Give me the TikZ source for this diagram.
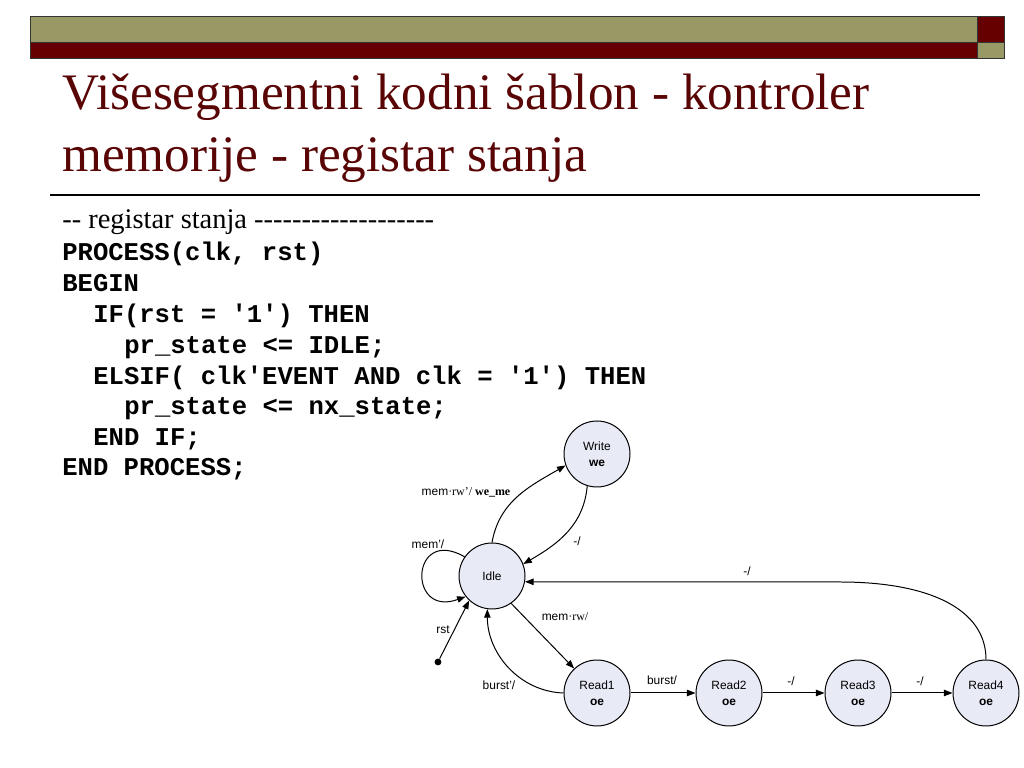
\documentclass[tikz,border=0pt]{standalone}
\usepackage{fontspec}
\setmainfont{Liberation Serif}
\setsansfont{Liberation Sans}
\setmonofont{Liberation Mono}
\usepackage{tikz}
\usetikzlibrary{arrows.meta, positioning, calc}
\definecolor{barolive}{HTML}{999966}
\definecolor{barmaroon}{HTML}{660000}
\definecolor{titlered}{HTML}{5A0505}
\definecolor{statefill}{HTML}{E8EAF6}

\begin{document}
\begin{tikzpicture}[x=0.703125pt, y=0.703125pt,
    titletext/.style={anchor=base west, inner sep=0pt, text=titlered, font=\fontsize{36}{40}\selectfont},
    cmt/.style={anchor=base west, inner sep=0pt, font=\fontsize{20}{24}\selectfont},
    code/.style={anchor=base west, inner sep=0pt, font=\ttfamily\bfseries\fontsize{18}{20}\selectfont},
    state/.style={circle, draw=black, line width=0.7pt, fill=statefill, minimum size=46.4pt, inner sep=0pt, align=center, font=\sffamily\fontsize{8.4}{11}\selectfont},
    edge/.style={line width=0.7pt, -{Triangle[length=6pt, width=4.5pt]}},
    lbl/.style={inner sep=1pt, font=\sffamily\fontsize{8.4}{10}\selectfont}]
    \useasboundingbox (0,0) rectangle (1024,768);

    % ===== Top bar =====
    \fill[barolive] (30,726) rectangle (977,752);
    \fill[barmaroon] (30,710) rectangle (977,726);
    \fill[barmaroon] (977,726) rectangle (1004,752);
    \fill[barolive] (977,710) rectangle (1004,726);
    \draw[black!80, line width=0.6pt] (30,710) rectangle (1004,752);
    \draw[black!80, line width=0.6pt] (30,726) -- (1004,726) (977,710) -- (977,752);

    % ===== Title =====
    \node[titletext] (t1) at (62,658) {Višesegmentni kodni šablon - kontroler};
    \node[titletext] (t2) at (62,596) {memorije - registar stanja};
    \draw[line width=1.1pt] (50,573) -- (980,573);

    % ===== Code =====
    \node[cmt] (c0) at (62,539) {-\kern0pt- registar stanja \foreach \i in {1,...,19}{-\kern0pt}};
    \node[code] (c1) at (62,507) {PROCESS(clk, rst)};
    \node[code] (c2) at (62,476) {BEGIN};
    \node[code] (c3) at (93,445) {IF(rst = '1') THEN};
    \node[code] (c4) at (124,414) {pr\_state <= IDLE;};
    \node[code] (c5) at (93,383) {ELSIF( clk'EVENT AND clk = '1') THEN};
    \node[code] (c6) at (124,353) {pr\_state <= nx\_state;};
    \node[code] (c7) at (93,322) {END IF;};
    \node[code] (c8) at (62,292) {END PROCESS;};

    % ===== States =====
    \node[state] (write) at (597,314) {Write\\\textbf{we}};
    \node[state] (idle) at (492,192) {Idle};
    \node[state] (read1) at (597,75) {Read1\\\textbf{oe}};
    \node[state] (read2) at (729,75) {Read2\\\textbf{oe}};
    \node[state] (read3) at (858,75) {Read3\\\textbf{oe}};
    \node[state] (read4) at (986,75) {Read4\\\textbf{oe}};
    \node[circle, fill=black, inner sep=0pt, minimum size=4.8pt] (rstdot) at (438,106) {};
    \coordinate (bend) at (840,186);

    % Transitions
    \draw[edge] (idle.90) to[out=80, in=210] (write.200);
    \draw[edge] (write.253) to[out=265, in=30] (idle.21);
    \draw[edge] (idle.145) to[out=150, in=200, looseness=4] (idle.218);
    \draw[edge] (rstdot) -- (idle.227);
    \draw[edge] (idle.-55) -- (read1.133);
    \draw[edge] (read1.180) to[out=178, in=270] (idle.262);
    \draw[edge] (read1) -- (read2);
    \draw[edge] (read2) -- (read3);
    \draw[edge] (read3) -- (read4);
    \draw[edge] (read4.north) .. controls +(0,50) and +(90,0) .. (bend) -- (idle.-10);

    % Labels
    \node[lbl] (lwr) at (466,276) {mem{\rmfamily·rw'/ \textbf{we\_me}}};
    \node[lbl] (lwi) at (577,227) {-/};
    \node[lbl] (lloop) at (428,224) {mem'/};
    \node[lbl] (lrst) at (443,138) {rst};
    \node[lbl] (lmemrw) at (565,151) {mem{\rmfamily·rw/}};
    \node[lbl] (lburstn) at (499,83) {burst'/};
    \node[lbl] (lburst) at (662,88) {burst/};
    \node[lbl] (l23) at (791,87) {-/};
    \node[lbl] (l34) at (920,87) {-/};
    \node[lbl] (lback) at (747,197) {-/};
\end{tikzpicture}
\end{document}
